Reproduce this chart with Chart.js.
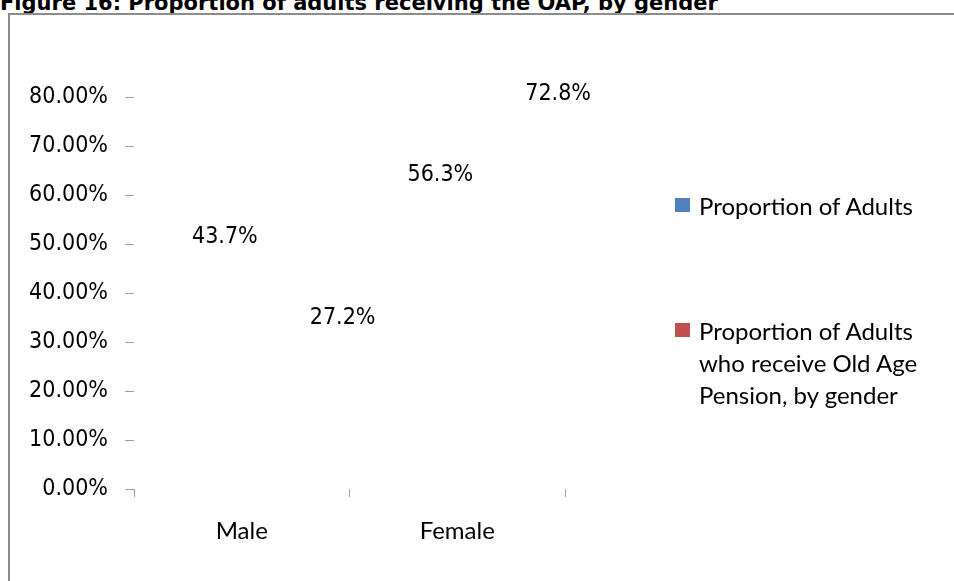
<!DOCTYPE html>
<html>
<head>
<meta charset="utf-8">
<script src="https://cdn.jsdelivr.net/npm/chart.js@4.4.1/dist/chart.umd.min.js"></script>
<style>
    html, body { margin: 0; padding: 0; background: #fff; }
    body { width: 954px; height: 581px; position: relative; overflow: hidden; }
    #title {
        position: absolute; left: 0; top: -7px;
        font: bold 21px "DejaVu Sans", Verdana, sans-serif; line-height: 21px;
        color: #000; white-space: nowrap;
    }
    #frame {
        position: absolute; left: 8px; top: 13px; width: 1000px; height: 1000px;
        border-top: 2px solid #8c8c8c; border-left: 2px solid #8c8c8c;
    }
    #chartWrap { position: absolute; left: 0; top: 0; width: 954px; height: 581px; }
    #legend {
        position: absolute; left: 675px; top: 190px;
        font: 24px Lato, "Noto Sans", sans-serif; line-height: 32px; color: #000;
    }
    .legend-item { position: relative; padding-left: 24px; width: 250px; }
    .legend-item + .legend-item { margin-top: 93px; }
    .legend-box { position: absolute; left: 0; top: 8px; width: 15px; height: 14px; }
</style>
</head>
<body>
<div id="title">Figure 16: Proportion of adults receiving the OAP, by gender</div>
<div id="frame"></div>
<div id="chartWrap"><canvas id="oapChart"></canvas></div>
<div id="legend"></div>

<script>
/* data */
const genders = ["Male", "Female"];
const seriesNames = [
    "Proportion of Adults",
    "Proportion of Adults who receive Old Age Pension, by gender"
];
const adultShare = [0.437, 0.563];
const pensionShare = [0.272, 0.728];
const seriesColors = ["#4f81bd", "#c0504d"];
const yTickValues = [0, 0.1, 0.2, 0.3, 0.4, 0.5, 0.6, 0.7, 0.8];

const labelFont = '23px "DejaVu Sans Condensed", "DejaVu Sans", sans-serif';

/* value labels above the (hidden) bars */
const valueLabels = {
    id: "valueLabels",
    afterDatasetsDraw(chart, args, opts) {
        const ctx = chart.ctx;
        ctx.save();
        ctx.font = labelFont;
        ctx.fillStyle = "#000";
        ctx.textAlign = "center";
        ctx.textBaseline = "middle";
        chart.data.datasets.forEach((ds, i) => {
            const meta = chart.getDatasetMeta(i);
            meta.data.forEach((bar, j) => {
                const text = (ds.data[j] * 100).toFixed(1) + "%";
                ctx.fillText(text, bar.x + opts.dx[i], bar.y - opts.lift);
            });
        });
        ctx.restore();
    }
};

const oapChart = new Chart(document.querySelector("#oapChart"), {
    type: "bar",
    data: {
        labels: genders,
        datasets: [
            { label: seriesNames[0], data: adultShare, backgroundColor: "rgba(0,0,0,0)" },
            { label: seriesNames[1], data: pensionShare, backgroundColor: "rgba(0,0,0,0)" }
        ]
    },
    options: {
        responsive: true,
        maintainAspectRatio: false,
        animation: false,
        layout: { padding: { top: 97, right: 389, bottom: 0, left: 0 } },
        datasets: { bar: { categoryPercentage: 1, barPercentage: 0.6 } },
        plugins: {
            legend: { display: false },
            tooltip: { enabled: false },
            valueLabels: { dx: [37, 47], lift: 38 }
        },
        scales: {
            x: {
                border: { display: false },
                grid: { drawOnChartArea: false, tickLength: 8, tickColor: "#a0a0a0" },
                ticks: {
                    padding: 20,
                    color: "#000",
                    font: { family: "Lato, 'Noto Sans', sans-serif", size: 24 }
                },
                afterFit: scale => { scale.height = 92; }
            },
            y: {
                min: 0,
                max: 0.8,
                border: { display: false },
                grid: { drawOnChartArea: false, tickLength: 9, tickColor: "#a0a0a0" },
                afterBuildTicks: scale => { scale.ticks = yTickValues.map(v => ({ value: v })); },
                ticks: {
                    padding: 17,
                    color: "#000",
                    font: { family: "'DejaVu Sans Condensed', 'DejaVu Sans', sans-serif", size: 23 },
                    callback: v => (v * 100).toFixed(2) + "%"
                },
                afterFit: scale => { scale.width = 134; }
            }
        }
    },
    plugins: [valueLabels]
});

/* html legend (labels wrap like the original) */
const legendEl = document.querySelector("#legend");
oapChart.data.datasets.forEach((ds, i) => {
    const item = document.createElement("div");
    item.className = "legend-item";
    item.innerHTML = `<span class="legend-box" style="background:${seriesColors[i]}"></span>${ds.label}`;
    legendEl.appendChild(item);
});
</script>
</body>
</html>
